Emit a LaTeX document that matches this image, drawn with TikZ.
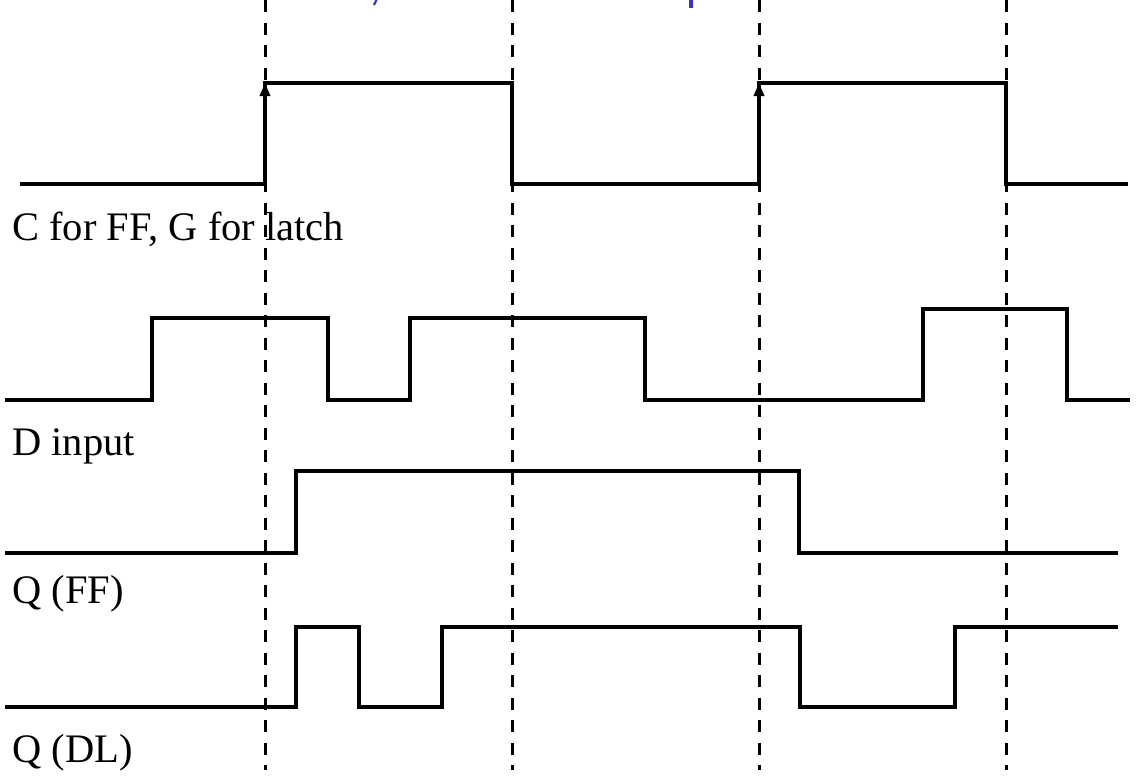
\documentclass[tikz,border=0pt]{standalone}
\usepackage{fontspec}
\setmainfont{Liberation Serif}
\usetikzlibrary{arrows.meta}
\definecolor{titleblue}{RGB}{51,51,204}
\begin{document}
\begin{tikzpicture}[x=1pt,y=-1pt,
  wave/.style={line width=3.3pt,line join=miter},
  guide/.style={line width=3pt,dash pattern=on 12pt off 10.5pt},
  edgearrow/.style={line width=3.3pt,-{Triangle[length=13pt,width=10pt]}},
  lbl/.style={anchor=base west,inner sep=0pt,font=\fontsize{40.5}{48}\selectfont}]
\useasboundingbox (0,0) rectangle (1145,777);
% fragments of the clipped blue title
\draw[titleblue,line width=2.2pt] (376.5,0) -- (374,5);
\fill[titleblue] (688.5,0) rectangle (693,8);
% dashed guides
\foreach \gx/\nm in {265/g1,512/g2,759/g3,1006/g4}{
  \coordinate (\nm t) at (\gx,0);
  \coordinate (\nm b) at (\gx,770);
  \draw[guide] (\nm t) -- (\nm b);
}
% C / G waveform
\draw[wave] (20,184) -- (265,184) -- (265,83) -- (512,83) -- (512,184) -- (759,184) -- (759,83) -- (1006,83) -- (1006,184) -- (1128,184);
\coordinate (c1a) at (265,184); \coordinate (c1b) at (265,83);
\coordinate (c2a) at (759,184); \coordinate (c2b) at (759,83);
\draw[edgearrow] (c1a) -- (c1b);
\draw[edgearrow] (c2a) -- (c2b);
\node[lbl] (lc) at (12,240) {C for FF, G for latch};
% D input
\draw[wave] (5,400) -- (152,400) -- (152,318) -- (328,318) -- (328,400) -- (410,400) -- (410,318) -- (645,318) -- (645,400) -- (923,400) -- (923,309) -- (1067,309) -- (1067,400) -- (1130,400);
\node[lbl] (ld) at (12,455) {D input};
% Q (FF)
\draw[wave] (5,553) -- (296,553) -- (296,471) -- (799,471) -- (799,553) -- (1118,553);
\node[lbl] (lqf) at (12,603) {Q (FF)};
% Q (DL)
\draw[wave] (5,707) -- (296,707) -- (296,627) -- (359,627) -- (359,707) -- (442,707) -- (442,627) -- (800,627) -- (800,707) -- (955,707) -- (955,627) -- (1118,627);
\node[lbl] (lqd) at (12,762) {Q (DL)};
\end{tikzpicture}
\end{document}
